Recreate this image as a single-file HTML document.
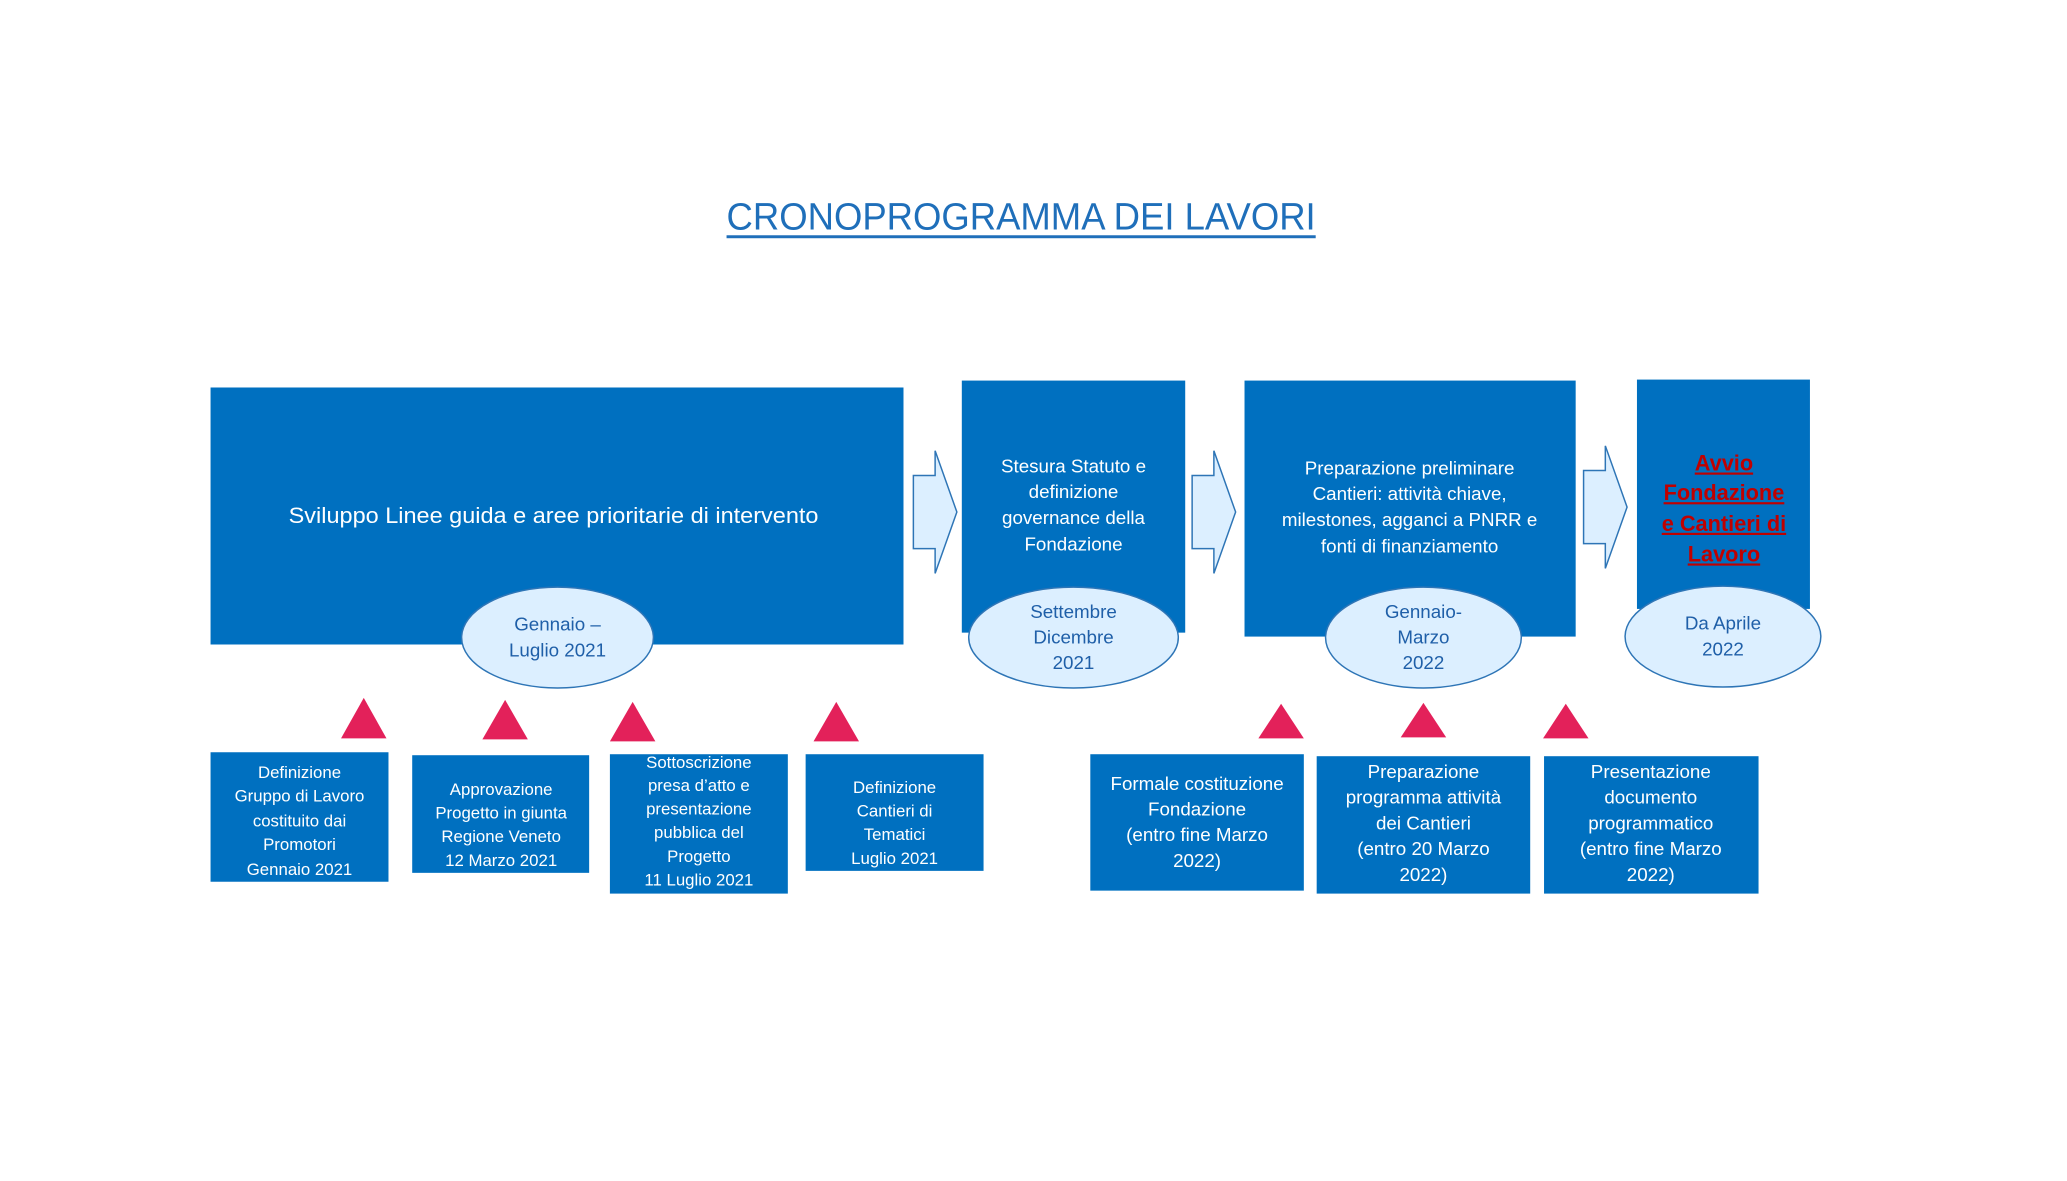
<!DOCTYPE html>
<html><head><meta charset="utf-8"><style>
html,body{margin:0;padding:0;background:#fff}
svg{display:block}
text{font-family:"Liberation Sans",sans-serif}
</style></head><body>
<svg width="2067" height="1181" viewBox="0 0 2067 1181" xmlns="http://www.w3.org/2000/svg">
<rect width="2067" height="1181" fill="#fff"/>
<g transform="scale(0.9885)">
<text x="1033" y="232" text-anchor="middle" font-size="38" fill="#1f6fba" textLength="596" lengthAdjust="spacingAndGlyphs">CRONOPROGRAMMA DEI LAVORI</text>
<rect x="735" y="238" width="596" height="3" fill="#1f6fba"/>

<g fill="#0070c0">
<rect x="213" y="392" width="701" height="260"/>
<rect x="973" y="385" width="226" height="255"/>
<rect x="1259" y="385" width="335" height="259"/>
<rect x="1656" y="384" width="175" height="232"/>
</g>

<g fill="#dcefff" stroke="#2e75b6" stroke-width="1.5">
<polygon points="924,481 946,481 946,456 968,518 946,580 946,555 924,555"/>
<polygon points="1206,481 1228,481 1228,456 1250,518 1228,580 1228,555 1206,555"/>
<polygon points="1602,476 1624,476 1624,451 1646,513 1624,575 1624,550 1602,550"/>
<ellipse cx="564" cy="645" rx="97" ry="51"/>
<ellipse cx="1086" cy="645" rx="106" ry="51"/>
<ellipse cx="1440" cy="645" rx="99" ry="51"/>
<ellipse cx="1743" cy="644" rx="99" ry="51"/>
</g>

<g fill="#fff" font-size="22" text-anchor="middle">
<text x="560" y="529" textLength="536" lengthAdjust="spacingAndGlyphs">Sviluppo Linee guida e aree prioritarie  di intervento</text>
</g>
<g fill="#fff" font-size="19" text-anchor="middle">
<text x="1086" y="478">Stesura Statuto e</text>
<text x="1086" y="504">definizione</text>
<text x="1086" y="530">governance della</text>
<text x="1086" y="557">Fondazione</text>
<text x="1426" y="480">Preparazione preliminare</text>
<text x="1426" y="506">Cantieri: attività chiave,</text>
<text x="1426" y="532">milestones, agganci a PNRR e</text>
<text x="1426" y="559">fonti di finanziamento</text>
</g>
<g fill="#c00000" font-size="22" font-weight="bold" text-anchor="middle" text-decoration="underline">
<text x="1744" y="476">Avvio</text>
<text x="1744" y="506">Fondazione</text>
<text x="1744" y="537">e Cantieri di</text>
<text x="1744" y="568">Lavoro</text>
</g>
<g fill="#1f5fa8" font-size="19" text-anchor="middle">
<text x="564" y="638">Gennaio –</text>
<text x="564" y="664">Luglio 2021</text>
<text x="1086" y="625">Settembre</text>
<text x="1086" y="651">Dicembre</text>
<text x="1086" y="677">2021</text>
<text x="1440" y="625">Gennaio-</text>
<text x="1440" y="651">Marzo</text>
<text x="1440" y="677">2022</text>
<text x="1743" y="637">Da Aprile</text>
<text x="1743" y="663">2022</text>
</g>

<g fill="#e3215a">
<polygon points="345,747 368,706 391,747"/>
<polygon points="488,748 511,708 534,748"/>
<polygon points="617,750 640,710 663,750"/>
<polygon points="823,750 846,710 869,750"/>
<polygon points="1273,747 1296,712 1319,747"/>
<polygon points="1417,746 1440,711 1463,746"/>
<polygon points="1561,747 1584,712 1607,747"/>
</g>

<g fill="#0070c0">
<rect x="213" y="761" width="180" height="131"/>
<rect x="417" y="764" width="179" height="119"/>
<rect x="617" y="763" width="180" height="141"/>
<rect x="815" y="763" width="180" height="118"/>
<rect x="1103" y="763" width="216" height="138"/>
<rect x="1332" y="765" width="216" height="139"/>
<rect x="1562" y="765" width="217" height="139"/>
</g>
<g fill="#fff" font-size="17" text-anchor="middle">
<text x="303" y="787">Definizione</text>
<text x="303" y="811">Gruppo di Lavoro</text>
<text x="303" y="836">costituito dai</text>
<text x="303" y="860">Promotori</text>
<text x="303" y="885">Gennaio 2021</text>
<text x="507" y="804">Approvazione</text>
<text x="507" y="828">Progetto in giunta</text>
<text x="507" y="852">Regione Veneto</text>
<text x="507" y="876">12 Marzo 2021</text>
<text x="707" y="777">Sottoscrizione</text>
<text x="707" y="800">presa d’atto e</text>
<text x="707" y="824">presentazione</text>
<text x="707" y="848">pubblica del</text>
<text x="707" y="872">Progetto</text>
<text x="707" y="896">11 Luglio 2021</text>
<text x="905" y="802">Definizione</text>
<text x="905" y="826">Cantieri di</text>
<text x="905" y="850">Tematici</text>
<text x="905" y="874">Luglio 2021</text>
</g>
<g fill="#fff" font-size="19" text-anchor="middle">
<text x="1211" y="799">Formale costituzione</text>
<text x="1211" y="825">Fondazione</text>
<text x="1211" y="851">(entro fine Marzo</text>
<text x="1211" y="877">2022)</text>
<text x="1440" y="787">Preparazione</text>
<text x="1440" y="813">programma attività</text>
<text x="1440" y="839">dei Cantieri</text>
<text x="1440" y="865">(entro 20 Marzo</text>
<text x="1440" y="891">2022)</text>
<text x="1670" y="787">Presentazione</text>
<text x="1670" y="813">documento</text>
<text x="1670" y="839">programmatico</text>
<text x="1670" y="865">(entro fine Marzo</text>
<text x="1670" y="891">2022)</text>
</g>
</g>
</svg>
</body></html>
